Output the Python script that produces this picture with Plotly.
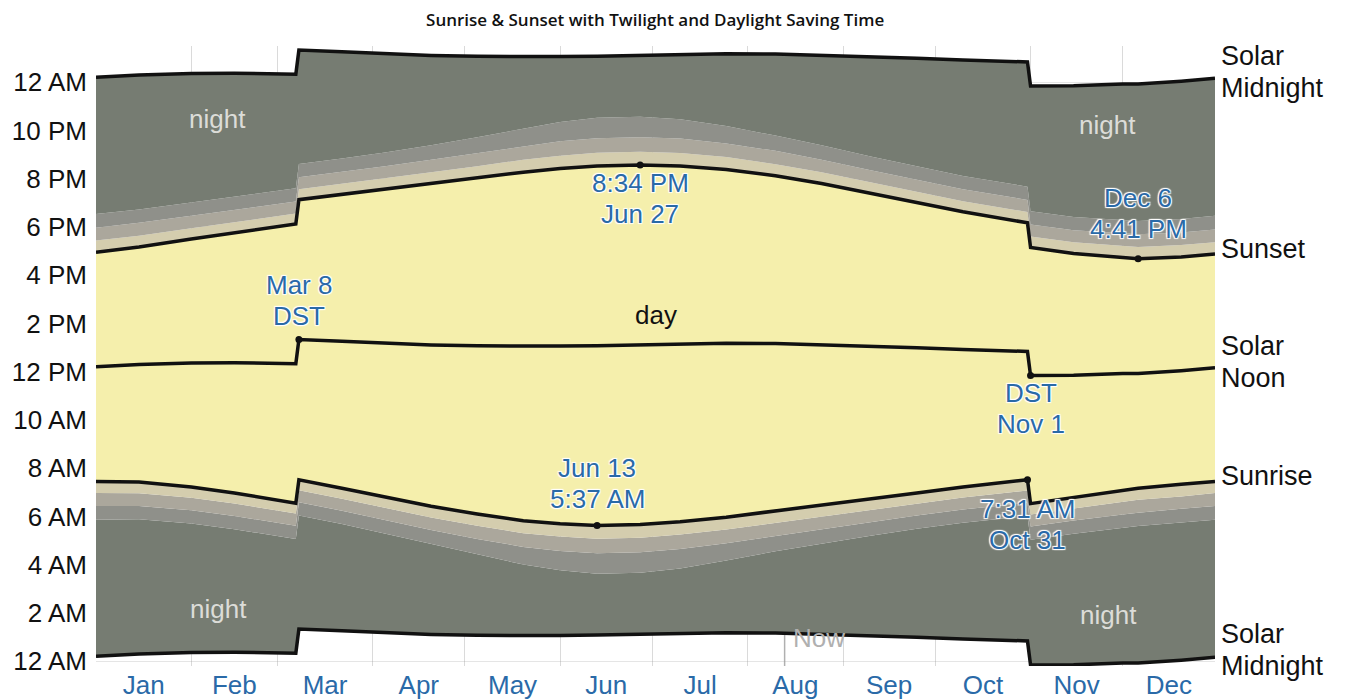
import plotly.graph_objects as go

# ---------------- data ----------------
# sample dates as day-of-year index (Jan 1 = 0)
sample_labels = ["Jan 1", "Jan 15", "Feb 1", "Feb 15", "Mar 7", "Mar 8", "Mar 22", "Apr 5",
                 "Apr 20", "May 5", "May 20", "Jun 1", "Jun 13", "Jun 27", "Jul 10", "Jul 25",
                 "Aug 10", "Aug 25", "Sep 10", "Sep 25", "Oct 10", "Oct 31", "Nov 1", "Nov 15",
                 "Dec 1", "Dec 6", "Dec 20", "Dec 31"]
sample_days = [0, 14, 31, 45, 65, 66, 80, 94, 109, 124, 139, 151, 163, 177, 190, 205,
               221, 236, 252, 267, 282, 303, 304, 318, 334, 339, 353, 364]

# clock times in decimal hours
sunrise = [7.45, 7.43, 7.22, 6.97, 6.55, 7.52, 7.17, 6.80, 6.42, 6.10, 5.82, 5.70, 5.62, 5.67,
           5.78, 5.97, 6.22, 6.45, 6.72, 6.97, 7.22, 7.52, 6.53, 6.80, 7.08, 7.17, 7.33, 7.45]
sunset = [16.95, 17.17, 17.50, 17.77, 18.12, 19.13, 19.35, 19.57, 19.80, 20.03, 20.27, 20.42,
          20.53, 20.57, 20.53, 20.38, 20.12, 19.80, 19.40, 19.02, 18.63, 18.17, 17.15, 16.90,
          16.75, 16.68, 16.75, 16.88]
solar_noon = [12.20, 12.30, 12.36, 12.37, 12.33, 13.33, 13.26, 13.18, 13.11, 13.07, 13.05, 13.06,
              13.08, 13.12, 13.16, 13.18, 13.17, 13.12, 13.06, 12.99, 12.92, 12.84, 11.84, 11.85,
              11.92, 11.92, 12.04, 12.16]

# twilight length before sunrise / after sunset, minutes
civil_min = [29, 28, 27, 26, 26, 26, 26, 27, 28, 29, 31, 32, 33, 33,
             32, 31, 29, 28, 27, 26, 26, 27, 27, 28, 29, 29, 30, 29]
nautical_min = [61, 60, 58, 57, 56, 56, 56, 57, 59, 62, 65, 68, 69, 69,
                68, 65, 62, 59, 57, 56, 56, 57, 57, 58, 60, 61, 61, 61]
astro_min = [95, 93, 91, 90, 89, 89, 89, 91, 95, 101, 109, 116, 120, 120,
             116, 108, 100, 95, 91, 89, 89, 90, 90, 91, 93, 94, 95, 95]

month_names = ["Jan", "Feb", "Mar", "Apr", "May", "Jun", "Jul", "Aug", "Sep", "Oct", "Nov", "Dec"]
month_starts = [0, 31, 59, 90, 120, 151, 181, 212, 243, 273, 304, 334, 364]

y_tick_vals = [0, 2, 4, 6, 8, 10, 12, 14, 16, 18, 20, 22, 24]
y_tick_text = ["12 AM", "2 AM", "4 AM", "6 AM", "8 AM", "10 AM", "12 PM", "2 PM", "4 PM",
               "6 PM", "8 PM", "10 PM", "12 AM"]

now_day = 224

# ---------------- derived boundaries ----------------
mid_low = [n - 12 for n in solar_noon]
mid_high = [n + 12 for n in solar_noon]
astro_dawn = [s - a / 60 for s, a in zip(sunrise, astro_min)]
naut_dawn = [s - a / 60 for s, a in zip(sunrise, nautical_min)]
civil_dawn = [s - a / 60 for s, a in zip(sunrise, civil_min)]
civil_dusk = [s + a / 60 for s, a in zip(sunset, civil_min)]
naut_dusk = [s + a / 60 for s, a in zip(sunset, nautical_min)]
astro_dusk = [s + a / 60 for s, a in zip(sunset, astro_min)]

NIGHT = "#767c72"
ASTRO = "#8f908a"
NAUT = "#aba79c"
CIVIL = "#d4cdae"
DAY = "#f5efac"

fig = go.Figure()

def band(y, color, fill=True):
    fig.add_trace(go.Scatter(
        x=sample_days, y=y, mode="lines", line=dict(width=0, color=color),
        fill="tonexty" if fill else None, fillcolor=color,
        hoverinfo="skip", showlegend=False))

band(mid_low, NIGHT, fill=False)
band(astro_dawn, NIGHT)
band(naut_dawn, ASTRO)
band(civil_dawn, NAUT)
band(sunrise, CIVIL)
band(sunset, DAY)
band(civil_dusk, CIVIL)
band(naut_dusk, NAUT)
band(astro_dusk, ASTRO)
band(mid_high, NIGHT)

for yv in (mid_low, sunrise, solar_noon, sunset, mid_high):
    fig.add_trace(go.Scatter(x=sample_days, y=yv, mode="lines",
                             line=dict(color="#111111", width=3.5),
                             hoverinfo="skip", showlegend=False))

# highlighted points
pt_x = [66, 177, 339, 304, 163, 303]
pt_y = [solar_noon[5], sunset[13], sunset[25], solar_noon[22], sunrise[12], sunrise[21]]
fig.add_trace(go.Scatter(x=pt_x, y=pt_y, mode="markers",
                         marker=dict(color="#111111", size=7),
                         hoverinfo="skip", showlegend=False))

FONT = "Liberation Sans, Arial"
BLUE = "#2a6aa8"
halo = "1px 1px 1px white, -1px -1px 1px white, 1px -1px 1px white, -1px 1px 1px white"
blue_notes = [
    (66, 14.96, "Mar 8", "DST"),
    (177, 19.19, "8:34 PM", "Jun 27"),
    (339, 18.57, "Dec 6", "4:41 PM"),
    (304, 10.49, "DST", "Nov 1"),
    (163, 7.38, "Jun 13", "5:37 AM"),
    (303, 5.68, "7:31 AM", "Oct 31"),
]
ann = []
for x, y, t1, t2 in blue_notes:
    for t, sh in ((t1, 15.5), (t2, -15.5)):
        ann.append(dict(x=x, y=y, text=t, showarrow=False, xanchor="center", yanchor="middle",
                        yshift=sh,
                        font=dict(family=FONT, size=26, color=BLUE, shadow=halo)))

for x, y in [(39.4, 22.47), (328.9, 22.22), (40, 2.16), (329.5, 1.91)]:
    ann.append(dict(x=x, y=y, text="night", showarrow=False,
                    font=dict(family=FONT, size=26, color="#dcdcd8")))
ann.append(dict(x=182.2, y=14.34, text="day", showarrow=False,
                font=dict(family=FONT, size=26, color="#111111")))
ann.append(dict(x=now_day + 2, y=0.95, text="Now", showarrow=False, xanchor="left",
                font=dict(family=FONT, size=26, color="#b0b0b0")))

right_labels = [(24.41, "Solar", "Midnight"), (17.1, "Sunset", None),
                (12.39, "Solar", "Noon"), (7.67, "Sunrise", None),
                (0.46, "Solar", "Midnight")]
for y, t1, t2 in right_labels:
    parts = [(t1, 0)] if t2 is None else [(t1, 16), (t2, -16)]
    for t, sh in parts:
        ann.append(dict(x=1, xref="paper", y=y, text=t, showarrow=False, xanchor="left",
                        yanchor="middle", xshift=4, yshift=sh, align="left",
                        font=dict(family=FONT, size=27, color="#111111")))

fig.add_shape(type="line", x0=now_day, x1=now_day, y0=-0.25,
              y1=mid_low[16] + 0.05, line=dict(color="#b0b0b0", width=1.5), layer="below")

month_centers = [(month_starts[i] + month_starts[i + 1]) / 2 for i in range(12)]

fig.update_layout(
    width=1348, height=699,
    margin=dict(l=96, r=133, t=46, b=33, autoexpand=False),
    paper_bgcolor="white", plot_bgcolor="white",
    title=dict(text="Sunrise & Sunset with Twilight and Daylight Saving Time",
               x=0.486, xanchor="center", y=0.972, yanchor="middle",
               font=dict(family="Open Sans", size=17, color="#111111", weight=600)),
    annotations=ann,
    xaxis=dict(range=[0, 364], tickmode="array", tickvals=month_centers, ticktext=month_names,
               showgrid=False, zeroline=False, showline=False, ticks="", automargin=False,
               tickfont=dict(family=FONT, size=26, color=BLUE),
               ticklabelstandoff=1,
               minor=dict(tickmode="array", tickvals=month_starts, showgrid=True,
                          gridcolor="rgba(150,150,150,0.35)", gridwidth=1)),
    yaxis=dict(range=[-0.2, 25.5], tickmode="array", tickvals=y_tick_vals, ticktext=y_tick_text,
               showgrid=True, gridcolor="rgba(150,150,150,0.25)", zeroline=False,
               showline=False, ticks="", ticklabelstandoff=8, automargin=False,
               tickfont=dict(family=FONT, size=26, color="#111111")),
)

fig.write_html("out.html", config={"displayModeBar": False},
               post_script="document.body.style.margin='0';document.body.style.overflow='hidden';")
